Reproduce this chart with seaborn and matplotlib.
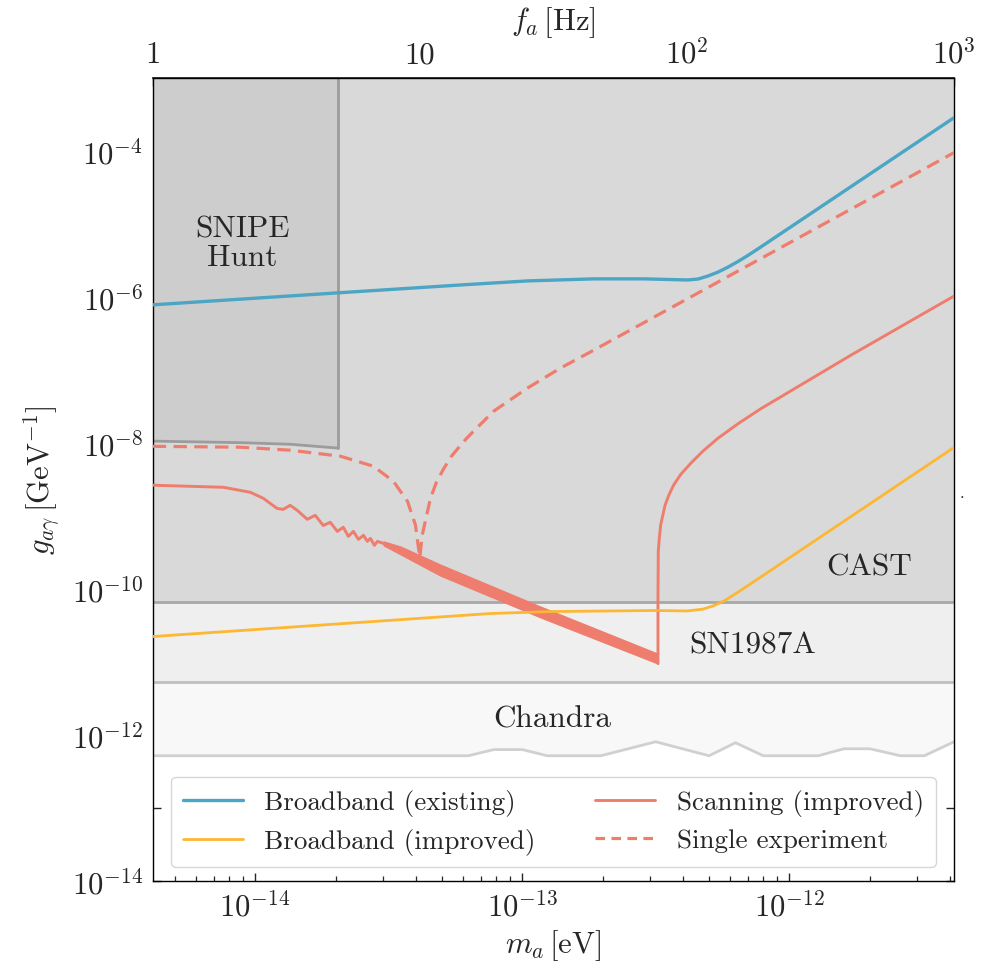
import numpy as np
import pandas as pd
import seaborn as sns
import matplotlib.pyplot as plt
from matplotlib.ticker import LogLocator, FuncFormatter, NullLocator, NullFormatter, FixedLocator

HZ_TO_EV = 4.135667e-15  # 1 Hz in eV

# ---- data (frequencies in Hz, couplings in GeV^-1) ----
bb_old_f = [1.0, 4.95, 14.2, 25.3, 44.8, 69.0, 100.7, 110, 120, 131, 142, 155, 169, 189, 1000]
bb_old_g = [7.8e-7, 1.14e-6, 1.46e-6, 1.66e-6, 1.77e-6, 1.77e-6, 1.71e-6, 1.76e-6, 1.94e-6,
            2.2e-6, 2.55e-6, 3.05e-6, 3.7e-6, 4.84e-6, 2.86e-4]

bb_new_f = [1.0, 18.4, 31.6, 76.9, 100.4, 115, 126, 139, 155, 187, 1000]
bb_new_g = [2.23e-11, 4.61e-11, 4.91e-11, 5.07e-11, 5.0e-11, 5.3e-11, 5.9e-11, 7.0e-11,
            9.0e-11, 1.42e-10, 8.7e-9]

scan_f = [1.0, 1.84, 2.32, 2.59, 2.92, 3.08, 3.27, 3.48, 3.79, 4.06, 4.35, 4.62, 4.91,
          5.17, 5.40, 5.64, 5.89, 6.15, 6.36, 6.53, 6.76, 6.94, 7.31]
scan_g = [2.64e-9, 2.47e-9, 2.11e-9, 1.75e-9, 1.27e-9, 1.23e-9, 1.40e-9, 1.19e-9, 9.0e-10,
          1.02e-9, 7.4e-10, 8.2e-10, 6.15e-10, 7.0e-10, 5.26e-10, 6.15e-10, 4.78e-10,
          5.43e-10, 4.49e-10, 4.93e-10, 3.96e-10, 4.49e-10, 4.2e-10]

band_f = [7.31, 8.46, 11.9, 28.3, 77.8]
band_hi = [4.49e-10, 3.83e-10, 2.17e-10, 5.75e-11, 1.30e-11]
band_lo = [3.96e-10, 2.98e-10, 1.53e-10, 4.07e-11, 9.5e-12]

post_f = [77.9, 77.9, 78.1, 78.8, 79.7, 81.2, 82.8, 85.5, 89.1, 94.9, 103.4, 114.7, 130.6,
          156.5, 189.2, 411.7, 1000]
post_g = [9.5e-12, 7.4e-11, 3.27e-10, 4.93e-10, 7.44e-10, 1.02e-9, 1.40e-9, 1.92e-9, 2.64e-9,
          3.73e-9, 5.28e-9, 7.71e-9, 1.16e-8, 1.87e-8, 2.95e-8, 1.6e-7, 1.03e-6]

single_f = [1.0, 2.13, 3.27, 5.04, 6.70, 7.96, 8.99, 9.63, 9.88, 10.0, 10.2, 10.96, 11.54,
            12.25, 13.14, 14.2, 15.1, 18.9, 25.3, 33.6, 44.8, 1000]
single_g = [9.0e-9, 8.75e-9, 7.96e-9, 6.59e-9, 4.80e-9, 2.99e-9, 1.59e-9, 7.5e-10, 3.7e-10,
            2.7e-10, 5.4e-10, 1.75e-9, 2.9e-9, 4.37e-9, 6.59e-9, 9.3e-9, 1.2e-8, 2.73e-8,
            5.65e-8, 1.06e-7, 1.87e-7, 9.5e-5]

# existing limits
cast_g = 6.6e-11
sn_g = 5.3e-12
snipe_f = [1.0, 2.13, 3.27, 4.95]
snipe_g = [1.06e-8, 1.01e-8, 9.6e-9, 8.5e-9]
chandra_f = [1.0, 15.2, 18.9, 24.2, 30.0, 47.6, 76.4, 121, 152, 193, 310, 387, 484, 630, 774, 1000]
chandra_g = [5.19e-13, 5.19e-13, 6.3e-13, 6.3e-13, 5.19e-13, 5.19e-13, 8.07e-13, 5.19e-13,
             7.83e-13, 5.19e-13, 5.19e-13, 6.47e-13, 6.47e-13, 5.19e-13, 5.19e-13, 8.07e-13]

c_blue = '#4ba5c4'
c_orange = '#fdb733'
c_red = '#ee7d6d'

sns.set_theme(style='ticks')
plt.rcParams['font.family'] = 'serif'
plt.rcParams['font.serif'] = ['cmr10', 'DejaVu Serif']
plt.rcParams['mathtext.fontset'] = 'cm'
plt.rcParams['axes.formatter.use_mathtext'] = True
plt.rcParams['axes.unicode_minus'] = False


def ev(f):
    return np.asarray(f) * HZ_TO_EV


fig = plt.figure(figsize=(9.86, 9.62), dpi=100)
ax = fig.add_axes([0.1549, 0.0832, 0.8127, 0.8347])
ax.set_xscale('log')
ax.set_yscale('log')
xmin, xmax = HZ_TO_EV * 1.0, HZ_TO_EV * 1000.0
ax.set_xlim(xmin, xmax)
ax.set_ylim(1e-14, 1e-3)

# shaded exclusion regions
ax.fill_between(ev(chandra_f), chandra_g, 1e-3, color='#f8f8f8', lw=0, zorder=1)
ax.plot(ev(chandra_f), chandra_g, color='#d0d0d0', lw=2, zorder=1.1)
ax.fill_between([xmin, xmax], sn_g, 1e-3, color='#efefef', lw=0, zorder=1.2)
ax.axhline(sn_g, color='#bfbfbf', lw=2, zorder=1.3)
ax.fill_between([xmin, xmax], cast_g, 1e-3, color='#d9d9d9', lw=0, zorder=1.4)
ax.axhline(cast_g, color='#a8a8a8', lw=2, zorder=1.5)
ax.fill_between(ev(snipe_f), snipe_g, 1e-3, color='#cdcdcd', lw=0, zorder=1.6)
ax.plot(ev(snipe_f), snipe_g, color='#9c9c9c', lw=2, zorder=1.7)
ax.plot(ev([snipe_f[-1], snipe_f[-1]]), [snipe_g[-1], 1e-3], color='#9c9c9c', lw=2, zorder=1.7)

ax.text(ev(2.16), 5.5e-6, 'SNIPE\nHunt', fontsize=22.5, ha='center', va='center',
        linespacing=1.05, zorder=3)
ax.text(ev(481), 2.04e-10, 'CAST', fontsize=22.5, ha='center', va='center', zorder=3)
ax.text(ev(176.7), 1.73e-11, 'SN1987A', fontsize=22.5, ha='center', va='center', zorder=3)
ax.text(ev(31.4), 1.67e-12, 'Chandra', fontsize=22.5, ha='center', va='center', zorder=3)

# sensitivity curves
sns.lineplot(x=ev(single_f), y=single_g, ax=ax, color=c_red, lw=2.3, sort=False,
             estimator=None, linestyle=(0, (4.2, 2.3)), zorder=4)
sns.lineplot(x=ev(scan_f), y=scan_g, ax=ax, color=c_red, lw=2.1, sort=False,
             estimator=None, zorder=5)
ax.fill_between(ev(band_f), band_lo, band_hi, color=c_red, lw=0.8, edgecolor=c_red, zorder=5)
sns.lineplot(x=ev(post_f), y=post_g, ax=ax, color=c_red, lw=2.1, sort=False,
             estimator=None, zorder=5)
sns.lineplot(x=ev(bb_new_f), y=bb_new_g, ax=ax, color=c_orange, lw=2.0, sort=False,
             estimator=None, zorder=6)
sns.lineplot(x=ev(bb_old_f), y=bb_old_g, ax=ax, color=c_blue, lw=2.4, sort=False,
             estimator=None, zorder=6)

# ticks
ax.xaxis.set_major_locator(FixedLocator([1e-14, 1e-13, 1e-12]))
ax.xaxis.set_major_formatter(FuncFormatter(lambda v, p: r'$10^{%d}$' % round(np.log10(v))))
ax.xaxis.set_minor_locator(LogLocator(base=10, subs=np.arange(2, 10), numticks=50))
ax.xaxis.set_minor_formatter(NullFormatter())
ax.yaxis.set_major_locator(FixedLocator([10.0 ** e for e in range(-14, -2)]))
ax.yaxis.set_major_formatter(FuncFormatter(
    lambda v, p: r'$10^{%d}$' % round(np.log10(v)) if round(np.log10(v)) % 2 == 0 else ''))
ax.yaxis.set_minor_locator(NullLocator())
ax.tick_params(axis='both', which='major', direction='in', length=6, width=1.0,
               labelsize=22, top=False, right=True, pad=7)
ax.tick_params(axis='x', which='minor', direction='in', length=3.5, width=0.9, top=False)
for s in ax.spines.values():
    s.set_linewidth(1.0)
    s.set_color('black')

sec = ax.secondary_xaxis('top', functions=(lambda m: m / HZ_TO_EV, lambda f: f * HZ_TO_EV))
sec.xaxis.set_major_locator(FixedLocator([1, 10, 100, 1000]))
sec.xaxis.set_major_formatter(FuncFormatter(
    lambda v, p: {1: '1', 10: '10', 100: r'$10^2$', 1000: r'$10^3$'}.get(int(round(v)), '')))
sec.xaxis.set_minor_locator(LogLocator(base=10, subs=np.arange(2, 10), numticks=50))
sec.xaxis.set_minor_formatter(NullFormatter())
sec.tick_params(axis='x', which='major', direction='in', length=6, width=1.0, labelsize=22, pad=7)
sec.tick_params(axis='x', which='minor', direction='in', length=3.5, width=0.9)
sec.set_xlabel(r'$f_a\,[\mathrm{Hz}]$', fontsize=22, labelpad=6)

ax.set_xlabel(r'$m_a\,[\mathrm{eV}]$', fontsize=22, labelpad=4)
ax.set_ylabel(r'$g_{a\gamma}\,[\mathrm{GeV}^{-1}]$', fontsize=22, labelpad=6)

h = [plt.Line2D([], [], color=c_blue, lw=2.4),
     plt.Line2D([], [], color=c_orange, lw=2.0),
     plt.Line2D([], [], color=c_red, lw=2.1),
     plt.Line2D([], [], color=c_red, lw=2.3, linestyle=(0, (3, 2)))]
labels = ['Broadband (existing)', 'Broadband (improved)', 'Scanning (improved)',
          'Single experiment']
leg = ax.legend(h, labels, ncol=2, loc='lower center', fontsize=19.5, frameon=True,
                framealpha=0.8, edgecolor='0.8', handlelength=2.2, columnspacing=2.2,
                borderpad=0.45, labelspacing=0.45)
leg.set_zorder(10)

fig.text(962 / 986, 1 - 493 / 962, '.', fontsize=12, ha='center', va='center')

fig.savefig('out.png', dpi=100)
